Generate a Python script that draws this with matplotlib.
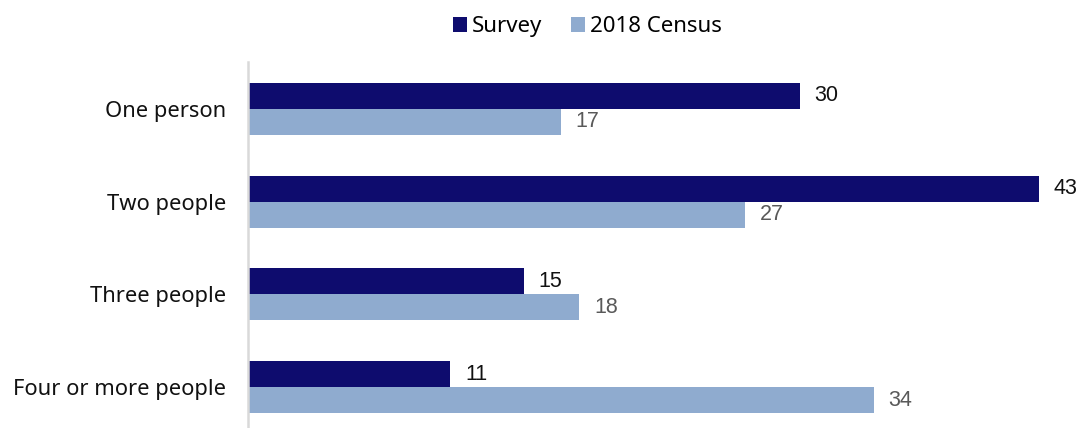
import numpy as np
import matplotlib.pyplot as plt

categories = ['One person', 'Two people', 'Three people', 'Four or more people']
survey = [30, 43, 15, 11]
census = [17, 27, 18, 34]
series_names = ['Survey', '2018 Census']

dark = '#0e0c6e'
light = '#8fabcf'

plt.rcParams['font.family'] = ['Noto Sans', 'DejaVu Sans']

fig = plt.figure(figsize=(10.83, 4.28), dpi=100)
ax = fig.add_axes([248 / 1083, -0.0129, 828 / 1083, 0.867])

y = np.arange(len(categories))
h = 0.28
b1 = ax.barh(y - h / 2, survey, height=h, color=dark, label=series_names[0])
b2 = ax.barh(y + h / 2, census, height=h, color=light, label=series_names[1])

for rect, v in zip(b1, survey):
    ax.text(v + 0.8, rect.get_y() + rect.get_height() / 2, str(v),
            va='center', ha='left', fontsize=15.5, color='#111111',
            family='Liberation Sans')
for rect, v in zip(b2, census):
    ax.text(v + 0.8, rect.get_y() + rect.get_height() / 2, str(v),
            va='center', ha='left', fontsize=15.5, color='#595959',
            family='Liberation Sans')

ax.set_xlim(0, 45)
ax.set_ylim(3.5, -0.5)
ax.set_yticks(y)
ax.set_yticklabels(categories, fontsize=15.8, color='#111111')
ax.tick_params(axis='y', length=0, pad=16)
ax.set_xticks([])

for s in ['top', 'right', 'bottom']:
    ax.spines[s].set_visible(False)
ax.spines['left'].set_color('#d9d9d9')
ax.spines['left'].set_linewidth(1.8)

fig.legend(handles=[b1, b2], labels=series_names, loc='center',
           bbox_to_anchor=(0.542, 0.937), ncol=2, frameon=False,
           fontsize=16, handlelength=0.65, handleheight=0.65,
           handletextpad=0.2, columnspacing=1.3)

fig.savefig('out.png', dpi=100)
